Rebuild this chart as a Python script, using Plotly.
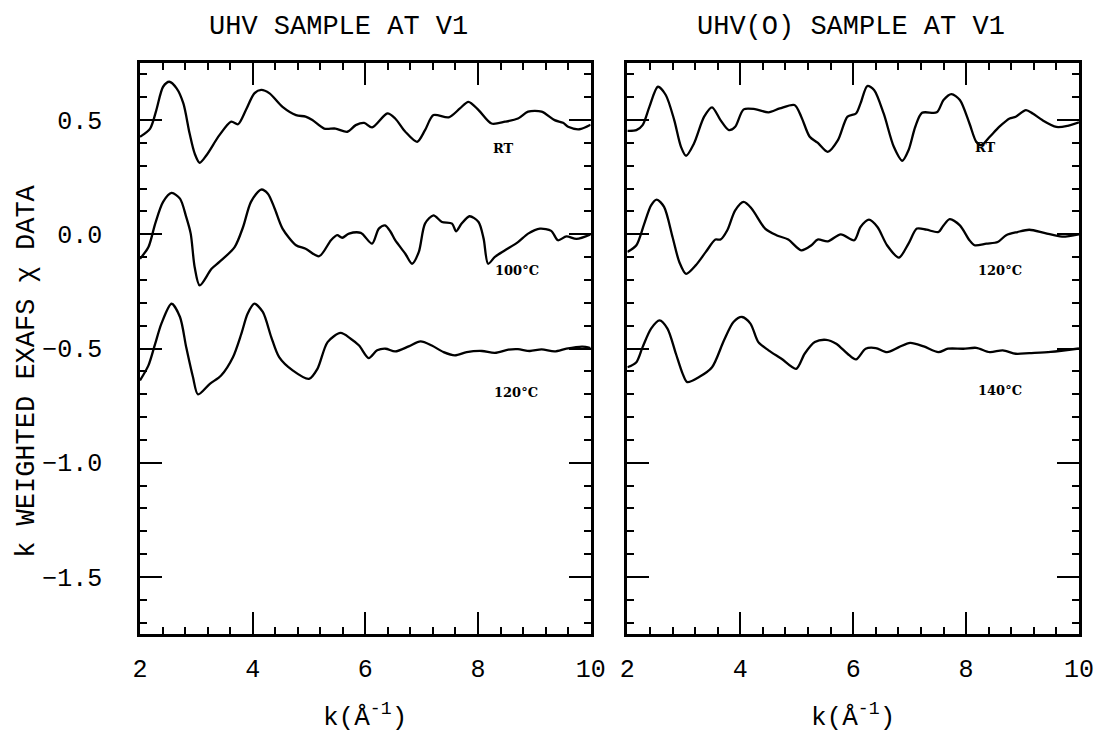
import plotly.graph_objects as go

# ---------------- data ----------------
# Left panel: UHV sample at V1
k_uhv_rt = [2.0, 2.18, 2.29, 2.41, 2.52, 2.65, 2.77, 2.88, 2.97, 3.06, 3.18, 3.41, 3.62, 3.74, 3.88, 4.03,
            4.15, 4.30, 4.53, 4.77, 4.94, 5.06, 5.27, 5.47, 5.68, 5.83, 5.98, 6.12, 6.39, 6.53, 6.71, 6.92,
            7.06, 7.21, 7.48, 7.68, 7.83, 8.01, 8.24, 8.48, 8.71, 8.89, 9.13, 9.36, 9.51, 9.60, 9.80, 10.0]
chi_uhv_rt = [0.427, 0.463, 0.544, 0.646, 0.668, 0.639, 0.573, 0.442, 0.354, 0.313, 0.346, 0.434, 0.493, 0.482,
              0.544, 0.617, 0.632, 0.617, 0.558, 0.522, 0.515, 0.500, 0.463, 0.463, 0.449, 0.478, 0.488, 0.468,
              0.529, 0.507, 0.449, 0.405, 0.456, 0.522, 0.512, 0.551, 0.580, 0.544, 0.485, 0.493, 0.507, 0.537,
              0.537, 0.500, 0.488, 0.471, 0.460, 0.480]

k_uhv_100 = [2.0, 2.15, 2.27, 2.41, 2.56, 2.71, 2.82, 2.90, 2.97, 3.06, 3.27, 3.41, 3.68, 3.83, 3.97, 4.15,
             4.27, 4.39, 4.53, 4.77, 4.94, 5.18, 5.39, 5.50, 5.59, 5.71, 5.92, 6.12, 6.24, 6.35, 6.45, 6.53,
             6.71, 6.83, 6.95, 7.06, 7.21, 7.36, 7.54, 7.61, 7.71, 7.85, 8.01, 8.10, 8.18, 8.30, 8.48, 8.71,
             8.89, 9.10, 9.30, 9.42, 9.57, 9.75, 10.0]
chi_uhv_100 = [-0.107, -0.056, 0.047, 0.142, 0.181, 0.156, 0.076, 0.003, -0.143, -0.224, -0.151, -0.121, -0.056,
               0.032, 0.142, 0.196, 0.178, 0.113, 0.025, -0.048, -0.063, -0.096, -0.026, -0.004, -0.015, 0.003,
               0.006, -0.041, 0.025, 0.039, 0.010, -0.026, -0.085, -0.129, -0.077, 0.047, 0.083, 0.054, 0.047,
               0.013, 0.047, 0.079, 0.054, -0.019, -0.129, -0.099, -0.070, -0.034, 0.003, 0.025, 0.015, -0.026,
               -0.009, -0.020, 0.000]

k_uhv_120 = [2.0, 2.15, 2.27, 2.38, 2.56, 2.71, 2.82, 2.94, 3.03, 3.24, 3.44, 3.65, 3.80, 3.91, 4.03, 4.18,
             4.33, 4.47, 4.71, 5.00, 5.15, 5.33, 5.56, 5.74, 5.89, 6.06, 6.21, 6.36, 6.53, 6.77, 6.98, 7.18,
             7.39, 7.59, 7.80, 8.07, 8.30, 8.54, 8.71, 8.92, 9.13, 9.36, 9.57, 9.85, 10.0]
chi_uhv_120 = [-0.640, -0.574, -0.479, -0.391, -0.304, -0.362, -0.494, -0.625, -0.701, -0.655, -0.618, -0.538,
               -0.435, -0.348, -0.304, -0.340, -0.450, -0.538, -0.596, -0.633, -0.589, -0.472, -0.432, -0.457,
               -0.487, -0.542, -0.508, -0.501, -0.513, -0.491, -0.469, -0.487, -0.516, -0.530, -0.516, -0.511,
               -0.519, -0.505, -0.503, -0.511, -0.504, -0.513, -0.501, -0.492, -0.498]

# Right panel: UHV(O) sample at V1
k_uhvo_rt = [2.0, 2.16, 2.27, 2.39, 2.54, 2.68, 2.83, 2.95, 3.04, 3.18, 3.36, 3.50, 3.65, 3.80, 3.91, 4.06,
             4.26, 4.50, 4.70, 4.96, 5.08, 5.23, 5.37, 5.55, 5.73, 5.90, 6.05, 6.13, 6.25, 6.37, 6.54, 6.72,
             6.87, 6.98, 7.10, 7.22, 7.48, 7.60, 7.74, 7.89, 8.06, 8.18, 8.27, 8.42, 8.59, 8.77, 8.88, 9.06,
             9.18, 9.35, 9.60, 9.80, 10.0]
chi_uhvo_rt = [0.453, 0.456, 0.478, 0.558, 0.646, 0.610, 0.500, 0.383, 0.344, 0.398, 0.515, 0.556, 0.500, 0.456,
               0.471, 0.547, 0.548, 0.534, 0.551, 0.566, 0.515, 0.427, 0.401, 0.361, 0.412, 0.515, 0.529, 0.573,
               0.649, 0.632, 0.529, 0.383, 0.322, 0.368, 0.471, 0.532, 0.534, 0.588, 0.614, 0.588, 0.485, 0.405,
               0.390, 0.427, 0.471, 0.507, 0.515, 0.544, 0.529, 0.500, 0.470, 0.475, 0.490]

k_uhvo_120 = [2.0, 2.16, 2.30, 2.42, 2.52, 2.65, 2.80, 2.92, 3.04, 3.21, 3.39, 3.56, 3.65, 3.77, 3.91, 4.06,
              4.20, 4.44, 4.64, 4.85, 5.08, 5.26, 5.37, 5.55, 5.78, 6.02, 6.13, 6.28, 6.43, 6.60, 6.81, 6.98,
              7.13, 7.30, 7.51, 7.60, 7.71, 7.89, 8.06, 8.15, 8.36, 8.56, 8.71, 8.91, 9.12, 9.40, 9.70, 10.0]
chi_uhvo_120 = [-0.077, -0.048, 0.047, 0.127, 0.152, 0.120, -0.012, -0.121, -0.173, -0.136, -0.077, -0.023,
                -0.023, 0.018, 0.105, 0.142, 0.113, 0.025, -0.004, -0.023, -0.070, -0.048, -0.023, -0.031, 0.000,
                -0.026, 0.032, 0.064, 0.032, -0.048, -0.102, -0.041, 0.025, 0.020, 0.010, 0.039, 0.066, 0.039,
                -0.026, -0.048, -0.041, -0.034, -0.004, 0.010, 0.020, 0.005, -0.010, 0.000]

k_uhvo_140 = [2.0, 2.16, 2.27, 2.42, 2.57, 2.71, 2.86, 2.98, 3.06, 3.27, 3.50, 3.71, 3.88, 4.03, 4.18, 4.32,
              4.50, 4.73, 4.99, 5.14, 5.32, 5.52, 5.70, 5.90, 6.05, 6.22, 6.40, 6.60, 6.81, 7.01, 7.25, 7.51,
              7.68, 7.95, 8.18, 8.42, 8.65, 8.88, 9.12, 9.50, 10.0]
chi_uhvo_140 = [-0.582, -0.560, -0.494, -0.413, -0.377, -0.413, -0.523, -0.611, -0.647, -0.625, -0.582, -0.465,
                -0.384, -0.362, -0.391, -0.472, -0.508, -0.545, -0.589, -0.523, -0.472, -0.462, -0.479, -0.523,
                -0.548, -0.501, -0.498, -0.516, -0.494, -0.475, -0.491, -0.516, -0.501, -0.501, -0.497, -0.516,
                -0.508, -0.523, -0.520, -0.515, -0.500]

panel_titles = ["UHV SAMPLE AT V1", "UHV(O) SAMPLE AT V1"]
curve_labels_left = ["RT", "100°C", "120°C"]
label_pos_left = [(8.45, 0.376), (8.70, -0.158), (8.68, -0.691)]
curve_labels_right = ["RT", "120°C", "140°C"]
label_pos_right = [(8.35, 0.380), (8.60, -0.158), (8.60, -0.684)]

x_ticks = [2, 4, 6, 8, 10]
y_ticks = [0.5, 0.0, -0.5, -1.0, -1.5]
y_tick_text = ["0.5", "0.0", "\u22120.5", "\u22121.0", "\u22121.5"]
y_range = [-1.75, 0.75]
x_range = [2, 10]

# ---------------- figure ----------------
W, H = 1106, 734
ML, MR, MT, MB = 140, 20, 63, 100
PW, PH = W - ML - MR, H - MT - MB

def px_x(p):
    return (p - ML) / PW

def px_y(p):
    return (H - MB - p) / PH

fig = go.Figure()
line = dict(color="black", width=2.3)
for kk, cc in [(k_uhv_rt, chi_uhv_rt), (k_uhv_100, chi_uhv_100), (k_uhv_120, chi_uhv_120)]:
    fig.add_trace(go.Scatter(x=kk, y=cc, mode="lines", line=dict(shape="spline", smoothing=0.8, **line),
                             xaxis="x", yaxis="y", showlegend=False, hoverinfo="skip"))
for kk, cc in [(k_uhvo_rt, chi_uhvo_rt), (k_uhvo_120, chi_uhvo_120), (k_uhvo_140, chi_uhvo_140)]:
    fig.add_trace(go.Scatter(x=kk, y=cc, mode="lines", line=dict(shape="spline", smoothing=0.8, **line),
                             xaxis="x2", yaxis="y2", showlegend=False, hoverinfo="skip"))

tick_font = dict(family="Liberation Mono", size=25, color="black")
xdom1 = [0, px_x(594)]
xdom2 = [px_x(631), 1]

xcommon = dict(range=x_range, tickmode="array", tickvals=x_ticks, ticks="inside", ticklen=22, tickwidth=2,
               tickcolor="black", showline=True, linecolor="black", linewidth=2.5, mirror="ticks",
               showgrid=False, zeroline=False, tickfont=tick_font, ticklabelstandoff=10,
               minor=dict(ticks="inside", ticklen=7, tickwidth=2, tickcolor="black", dtick=0.4, tick0=2,
                          showgrid=False))
ycommon = dict(range=y_range, tickmode="array", tickvals=y_ticks, ticks="inside", ticklen=22, tickwidth=2,
               tickcolor="black", showline=True, linecolor="black", linewidth=2.5, mirror="ticks",
               showgrid=False, zeroline=False, tickfont=tick_font,
               minor=dict(ticks="inside", ticklen=7, tickwidth=2, tickcolor="black", dtick=0.1, tick0=0,
                          showgrid=False))

fig.update_layout(
    width=W, height=H,
    margin=dict(l=ML, r=MR, t=MT, b=MB, pad=0),
    paper_bgcolor="white", plot_bgcolor="white",
    xaxis=dict(domain=xdom1, anchor="y", **xcommon),
    xaxis2=dict(domain=xdom2, anchor="y2", **xcommon),
    yaxis=dict(domain=[0, 1], anchor="x", ticktext=y_tick_text, ticklabelstandoff=30, **ycommon),
    yaxis2=dict(domain=[0, 1], anchor="x2", showticklabels=False, **ycommon),
    showlegend=False,
)

ann = []
title_font = dict(family="Liberation Mono", size=27, color="black")
for t, cx in zip(panel_titles, [340, 856]):
    ann.append(dict(text=t, x=px_x(cx), y=px_y(27), xref="paper", yref="paper", showarrow=False,
                    font=title_font, xanchor="center", yanchor="middle"))
for cx in [(140 + 594) / 2, (631 + 1086) / 2]:
    ann.append(dict(text="k(Å<sup>-1</sup>)", x=px_x(cx), y=px_y(716), xref="paper", yref="paper",
                    showarrow=False, font=dict(family="Liberation Mono", size=26, color="black"),
                    xanchor="center", yanchor="middle"))
ann.append(dict(text="k WEIGHTED EXAFS χ DATA", x=px_x(26), y=px_y(371), xref="paper", yref="paper",
                showarrow=False, textangle=-90, font=dict(family="Liberation Mono", size=27, color="black"),
                xanchor="center", yanchor="middle"))
lab_font = dict(family="DejaVu Serif", size=13, color="black", weight="bold")
for t, (xx, yy) in zip(curve_labels_left, label_pos_left):
    ann.append(dict(text=t, x=xx, y=yy, xref="x", yref="y", showarrow=False, font=lab_font))
for t, (xx, yy) in zip(curve_labels_right, label_pos_right):
    ann.append(dict(text=t, x=xx, y=yy, xref="x2", yref="y2", showarrow=False, font=lab_font))
fig.update_layout(annotations=ann)

fig.write_html("out.html")
